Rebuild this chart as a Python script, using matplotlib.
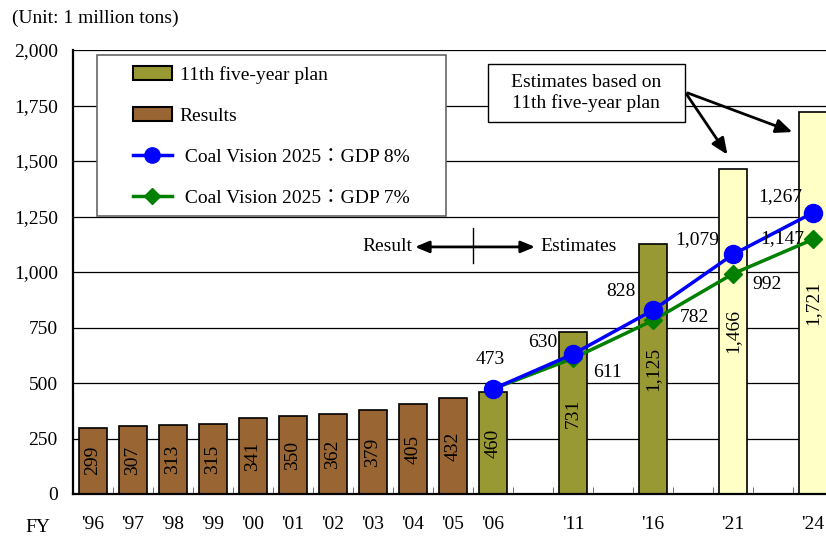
import matplotlib.pyplot as plt
import matplotlib.patches as mpatches
from matplotlib.lines import Line2D
from matplotlib.ticker import FixedLocator, FuncFormatter

plt.rcParams['font.family'] = ['Liberation Serif', 'Noto Sans CJK JP']
plt.rcParams['font.size'] = 14

# ====== Data ======
years = ["'96", "'97", "'98", "'99", "'00", "'01", "'02", "'03", "'04", "'05", "'06", "'11", "'16", "'21", "'24"]
slots = [0, 1, 2, 3, 4, 5, 6, 7, 8, 9, 10, 12, 14, 16, 18]
output = [299, 307, 313, 315, 341, 350, 362, 379, 405, 432, 460, 731, 1125, 1466, 1721]
kind = ["result"] * 10 + ["plan"] * 3 + ["estimate"] * 2

vision_slots = [10, 12, 14, 16, 18]
gdp8 = [473, 630, 828, 1079, 1267]
gdp7 = [473, 611, 782, 992, 1147]

# label offsets (pixels) for the line values
gdp8_off = [(-3, 29), (-30, 12), (-32, 19), (-36, 15), (-33, 16)]
gdp7_off = [None, (34, -14), (41, 3), (34, -11), (-31, 1)]

colors = {"result": "#996633", "plan": "#999933", "estimate": "#FFFFC6"}

fig = plt.figure(figsize=(8.26, 5.36), dpi=100)
ax = fig.add_axes([73 / 826, 42 / 536, 760 / 826, 444 / 536])

ax.bar(slots, output, width=0.72, color=[colors[k] for k in kind],
       edgecolor='black', linewidth=1.2, zorder=3)
for x, v in zip(slots, output):
    ax.text(x, v / 2, f"{v:,}", rotation=90, ha='center', va='center', zorder=4)

ax.plot(vision_slots, gdp7, color='#008000', lw=2.5, marker='D', ms=9, zorder=5)
ax.plot(vision_slots, gdp8, color='#0000FF', lw=2.5, marker='o', ms=13, zorder=6)

for x, v, off in zip(vision_slots, gdp8, gdp8_off):
    ax.annotate(f"{v:,}", (x, v), xytext=off, textcoords='offset pixels',
                ha='center', va='center', zorder=7)
for x, v, off in zip(vision_slots, gdp7, gdp7_off):
    if off is None:
        continue
    ax.annotate(f"{v:,}", (x, v), xytext=off, textcoords='offset pixels',
                ha='center', va='center', zorder=7)

# axes
ax.set_xlim(-0.5, 18.5)
ax.set_ylim(0, 2000)
ax.set_yticks(range(0, 2001, 250))
ax.yaxis.set_major_formatter(FuncFormatter(lambda v, p: f"{int(v):,}"))
ax.tick_params(axis='y', length=0, pad=11)
ax.set_xticks(slots)
ax.set_xticklabels(years)
ax.tick_params(axis='x', length=0, pad=16)
ax.xaxis.set_minor_locator(FixedLocator([i + 0.5 for i in range(18)]))
ax.tick_params(axis='x', which='minor', direction='in', length=5, color='#555555')
ax.grid(axis='y', color='black', lw=0.9, zorder=0)
for s in ['top', 'right']:
    ax.spines[s].set_visible(False)
ax.spines['left'].set_linewidth(1.6)
ax.spines['bottom'].set_linewidth(1.6)
ax.spines['bottom'].set_zorder(8)

# legend with its own frame
frame = mpatches.Rectangle((0.0316, 0.626), 0.459, 0.363, transform=ax.transAxes,
                           facecolor='white', edgecolor='#666666', lw=1.2, zorder=9)
ax.add_patch(frame)
handles = [
    mpatches.Patch(facecolor=colors["plan"], edgecolor='black', lw=1.5),
    mpatches.Patch(facecolor=colors["result"], edgecolor='black', lw=1.5),
    Line2D([], [], color='#0000FF', lw=2.5, marker='o', ms=11),
    Line2D([], [], color='#008000', lw=2.5, marker='D', ms=8),
]
labels = ["11th five-year plan", "Results",
          " Coal Vision 2025：GDP 8%", " Coal Vision 2025：GDP 7%"]
leg = ax.legend(handles, labels, loc='upper left',
                bbox_to_anchor=((133 - 73) / 760, (494 - 66) / 444),
                frameon=False, borderpad=0, borderaxespad=0,
                handlelength=2.0, handleheight=0.7, handletextpad=0.4,
                labelspacing=1.2)
leg.set_zorder(10)

# annotation box with arrows
box = mpatches.Rectangle((9.875, 1676), 4.925, 261, facecolor='white',
                         edgecolor='black', lw=1, zorder=9)
ax.add_patch(box)
ax.text(12.33, 1806, "Estimates based on\n11th five-year plan", ha='center', va='center',
        linespacing=1.2, zorder=10)
arrow = dict(arrowstyle='-|>,head_length=0.7,head_width=0.3', color='black', lw=2)
ax.annotate("", xy=(15.9, 1518), xytext=(14.8, 1811), arrowprops=arrow, zorder=9)
ax.annotate("", xy=(17.55, 1626), xytext=(14.8, 1811), arrowprops=arrow, zorder=9)

# result / estimates divider
ax.text(7.975, 1113, "Result", ha='right', va='center')
ax.text(11.175, 1113, "Estimates", ha='left', va='center')
ax.annotate("", xy=(7.98, 1113), xytext=(11.12, 1113),
            arrowprops=dict(arrowstyle='<|-|>,head_length=0.6,head_width=0.25', color='black', lw=2))
ax.plot([9.5, 9.5], [1041, 1198], color='black', lw=1)

fig.text(12 / 826, 1 - 18 / 536, "(Unit: 1 million tons)", ha='left', va='center')
fig.text(38 / 826, 1 - 527 / 536, "FY", ha='center', va='center')

plt.savefig("out.png", dpi=100)
plt.close()
